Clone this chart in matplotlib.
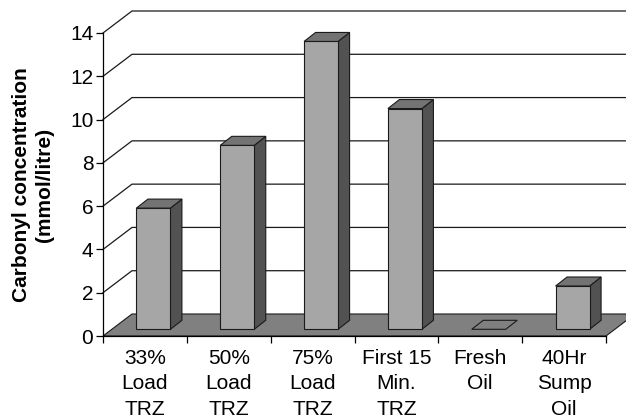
import numpy as np
import matplotlib
matplotlib.use("Agg")
import matplotlib.pyplot as plt
from matplotlib.patches import Polygon

plt.rcParams['font.family'] = ['Liberation Sans', 'DejaVu Sans']

categories = ["33%\nLoad\nTRZ", "50%\nLoad\nTRZ", "75%\nLoad\nTRZ",
              "First 15\nMin.\nTRZ", "Fresh\nOil", "40Hr\nSump\nOil"]
values = [5.6, 8.5, 13.3, 10.2, 0.0, 2.0]
y_ticks = [0, 2, 4, 6, 8, 10, 12, 14]

W, H = 626, 418
# pixel box of the front plane
LEFT, RIGHT, TOP, BOTTOM = 103, 606, 33, 336

fig = plt.figure(figsize=(W / 100, H / 100), dpi=100)
ax = fig.add_axes([LEFT / W, 1 - BOTTOM / H, (RIGHT - LEFT) / W, (BOTTOM - TOP) / H])
ax.set_xlim(0, 6)
ax.set_ylim(0, 14)

# data units per pixel
ux = 6 / (RIGHT - LEFT)
uy = 14 / (BOTTOM - TOP)

depth_x = 29 * ux
depth_y = 22 * uy


def poly(pts, fc, lw=0.8, z=2, ec="#1a1a1a"):
    p = Polygon(pts, closed=True, facecolor=fc, edgecolor=ec, linewidth=lw, zorder=z, clip_on=False)
    ax.add_patch(p)


# floor
poly([(0, 0), (depth_x, depth_y), (6 + depth_x, depth_y), (6, 0)], "#808080", z=2)

# grid on the left wall and the back
for v in y_ticks[1:]:
    ax.plot([0, depth_x, 6 + depth_x + 1], [v, v + depth_y, v + depth_y],
            color="#1a1a1a", lw=0.9, zorder=1, clip_on=False)

# bars
bar_w = 34 * ux
bar_dx = 11.5 * ux
bar_dy = 9 * uy
y_off = 6.7 * uy

for i, val in enumerate(values):
    x0 = i + 0.5 - bar_w / 2 + 8.5 * ux
    x1 = x0 + bar_w
    y0 = y_off
    y1 = y_off + val
    if val > 0:
        poly([(x1, y0), (x1 + bar_dx, y0 + bar_dy), (x1 + bar_dx, y1 + bar_dy), (x1, y1)], "#525252", z=3)
        poly([(x0, y0), (x1, y0), (x1, y1), (x0, y1)], "#a6a6a6", z=4)
    poly([(x0, y1), (x1, y1), (x1 + bar_dx, y1 + bar_dy), (x0 + bar_dx, y1 + bar_dy)],
         "#737373" if val > 0 else "#808080", z=4)

for s in ["top", "right"]:
    ax.spines[s].set_visible(False)
ax.spines["left"].set_linewidth(0.9)
ax.spines["bottom"].set_linewidth(0.9)
ax.spines["left"].set_zorder(6)
ax.spines["bottom"].set_zorder(6)

ax.set_yticks(y_ticks)
ax.tick_params(axis="y", length=5, width=0.9, labelsize=15, pad=2)
ax.set_xticks(np.arange(7))
ax.set_xticklabels([])
ax.tick_params(axis="x", which="major", length=5, width=0.9)
ax.set_xticks(np.arange(6) + 0.5, minor=True)
ax.set_xticklabels(categories, minor=True, fontsize=15, linespacing=1.42)
ax.tick_params(axis="x", which="minor", length=0, pad=9.5)

fig.text(33 / W, 1 - 185 / H, "Carbonyl concentration\n(mmol/litre)", rotation=90,
         ha="center", va="center", fontsize=15, fontweight="bold", linespacing=1.25)

fig.savefig("out.png", dpi=100)
